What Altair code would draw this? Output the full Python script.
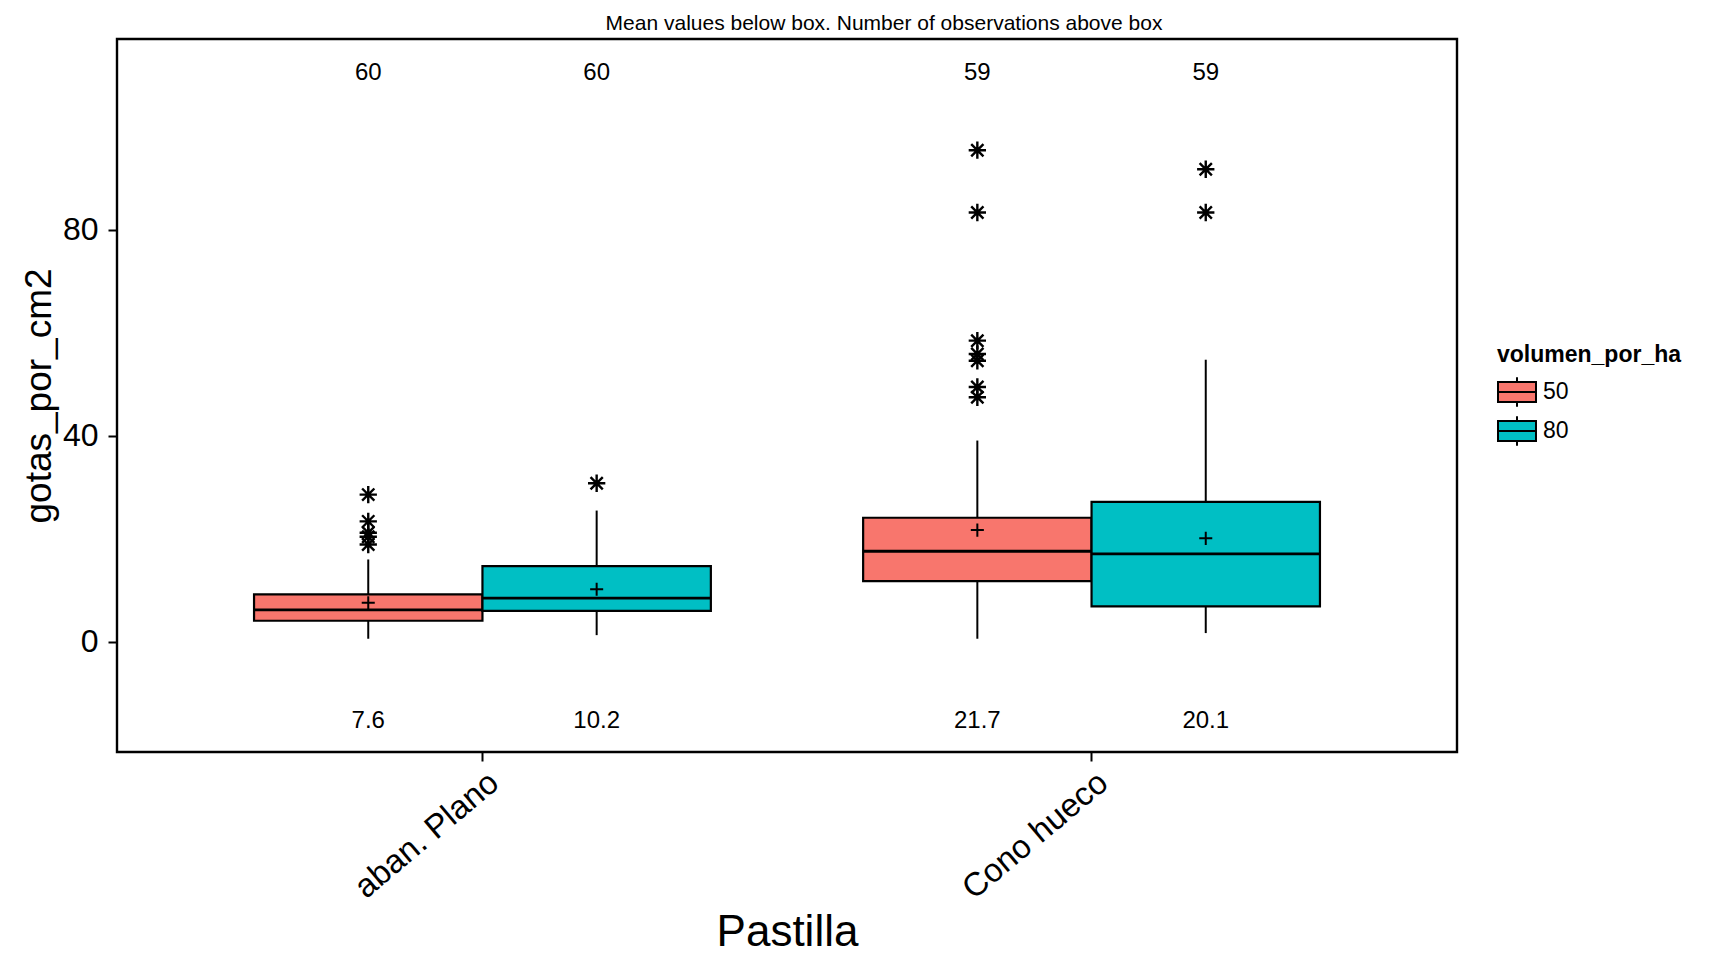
import altair as alt
import pandas as pd

# ---------------- data ----------------
pastilla = ["aban. Plano", "aban. Plano", "Cono hueco", "Cono hueco"]
volumen = ["50", "80", "50", "80"]
q1 = [4.1, 6.0, 11.8, 6.9]
medians = [6.2, 8.5, 17.6, 17.1]
q3 = [9.2, 14.7, 24.1, 27.2]
whisker_low = [0.6, 1.3, 0.6, 1.7]
whisker_high = [16.0, 25.5, 39.1, 54.8]
means = [7.6, 10.2, 21.7, 20.1]
n_obs = [60, 60, 59, 59]
outliers = [
    [28.6, 23.4, 21.2, 20.4, 18.9],
    [30.8],
    [95.5, 83.4, 58.5, 55.9, 54.6, 49.5, 47.5],
    [91.8, 83.4],
]
pastilla_order = ["aban. Plano", "Cono hueco"]
volumen_order = ["50", "80"]
colors = ["#F8766D", "#00BFC4"]
y_ticks = [0, 40, 80]
count_label_y = 110.5
mean_label_y = -15.3

stats = pd.DataFrame({
    "pastilla": pastilla,
    "volumen": volumen,
    "q1": q1,
    "median": medians,
    "q3": q3,
    "lo": whisker_low,
    "hi": whisker_high,
    "mean": means,
    "n": [str(v) for v in n_obs],
    "mean_txt": [f"{v:.1f}" for v in means],
})
out_rows = []
for p, v, vals in zip(pastilla, volumen, outliers):
    for o in vals:
        out_rows.append({"pastilla": p, "volumen": v, "value": o})
out_df = pd.DataFrame(out_rows)

FONT = "Liberation Sans"
YT = "gotas_por_cm2"

x_enc = alt.X(
    "pastilla:N",
    sort=pastilla_order,
    scale=alt.Scale(paddingInner=0, paddingOuter=0.1),
    title="Pastilla",
    axis=alt.Axis(labelAngle=-40, labelAlign="right", labelBaseline="middle",
                  labelFontSize=33, labelPadding=17, labelOffset=12,
                  titleFontSize=44, titlePadding=5),
)
xo_enc = alt.XOffset("volumen:N", sort=volumen_order,
                     scale=alt.Scale(paddingInner=0, paddingOuter=1 / 3))
y_scale = alt.Scale(domain=[-21.4, 117.1], nice=False, zero=False)
y_axis = alt.Axis(values=y_ticks, labelFontSize=32, labelPadding=10,
                  titleFontSize=37, titlePadding=4)

base = alt.Chart(stats)

whisk_low = base.mark_rule(color="black", strokeWidth=2).encode(
    x=x_enc, xOffset=xo_enc,
    y=alt.Y("lo:Q", scale=y_scale, axis=y_axis, title=YT), y2="q1:Q")
whisk_high = base.mark_rule(color="black", strokeWidth=2).encode(
    x=x_enc, xOffset=xo_enc,
    y=alt.Y("q3:Q", scale=y_scale, axis=y_axis, title=YT), y2="hi:Q")

legend_path = "M-1,-0.52H1V0.52H-1Z M-1,0H1 M0,-0.52V-0.78 M0,0.52V0.78"
boxes = base.mark_bar(stroke="black", strokeWidth=2.2, opacity=1).encode(
    x=x_enc, xOffset=xo_enc,
    y=alt.Y("q1:Q", scale=y_scale, axis=y_axis, title=YT), y2="q3:Q",
    color=alt.Color("volumen:N", sort=volumen_order,
                    scale=alt.Scale(domain=volumen_order, range=colors),
                    legend=alt.Legend(title="volumen_por_ha", orient="none",
                                      legendX=1380, legendY=305,
                                      symbolType=legend_path, symbolSize=1444,
                                      symbolStrokeColor="black", symbolStrokeWidth=2,
                                      symbolOpacity=1,
                                      titleFontSize=23, titleFontWeight="bold",
                                      titleLimit=400,
                                      labelFontSize=23, labelOffset=6,
                                      rowPadding=0, titlePadding=5)),
)
median_line = base.mark_bar(stroke="black", strokeWidth=2.8, fillOpacity=0).encode(
    x=x_enc, xOffset=xo_enc,
    y=alt.Y("median:Q", scale=y_scale, axis=y_axis, title=YT), y2="median:Q")

plus_path = "M-1,0H1M0,-1V1"
mean_pts = base.mark_point(shape=plus_path, size=170, stroke="black",
                           strokeWidth=2, filled=False, opacity=1).encode(
    x=x_enc, xOffset=xo_enc,
    y=alt.Y("mean:Q", scale=y_scale, axis=y_axis, title=YT))

star_path = "M0,-1V1M-1,0H1M-0.707,-0.707L0.707,0.707M-0.707,0.707L0.707,-0.707"
out_pts = alt.Chart(out_df).mark_point(shape=star_path, size=300, stroke="black",
                                       strokeWidth=2.4, filled=False, opacity=1).encode(
    x=x_enc, xOffset=xo_enc,
    y=alt.Y("value:Q", scale=y_scale, axis=y_axis, title=YT))

count_txt = base.mark_text(fontSize=24, font=FONT, color="black").encode(
    x=x_enc, xOffset=xo_enc, y=alt.datum(count_label_y, scale=y_scale), text="n:N")
mean_txt = base.mark_text(fontSize=24, font=FONT, color="black").encode(
    x=x_enc, xOffset=xo_enc, y=alt.datum(mean_label_y, scale=y_scale), text="mean_txt:N")

chart = alt.layer(
    whisk_low, whisk_high, boxes, median_line, mean_pts, out_pts, count_txt, mean_txt
).properties(
    width=1340, height=713,
    title=alt.TitleParams("Mean values below box. Number of observations above box",
                          fontSize=21, font=FONT, fontWeight="normal", anchor="middle",
                          dx=97, offset=5, color="black"),
    autosize=alt.AutoSizeParams(type="none"),
    padding={"left": 109, "top": 31, "right": 252, "bottom": 206},
).configure(
    font=FONT,
    background="white",
).configure_view(
    stroke="black", strokeWidth=2.4
).configure_axis(
    domain=False, grid=False, ticks=True, tickColor="black", tickWidth=2,
    tickSize=9, labelColor="black", titleColor="black", labelFont=FONT,
    titleFont=FONT, titleFontWeight="normal",
).configure_legend(
    labelColor="black", titleColor="black", labelFont=FONT, titleFont=FONT,
)

chart.save("out.html", embed_options={"renderer": "svg", "actions": False})
